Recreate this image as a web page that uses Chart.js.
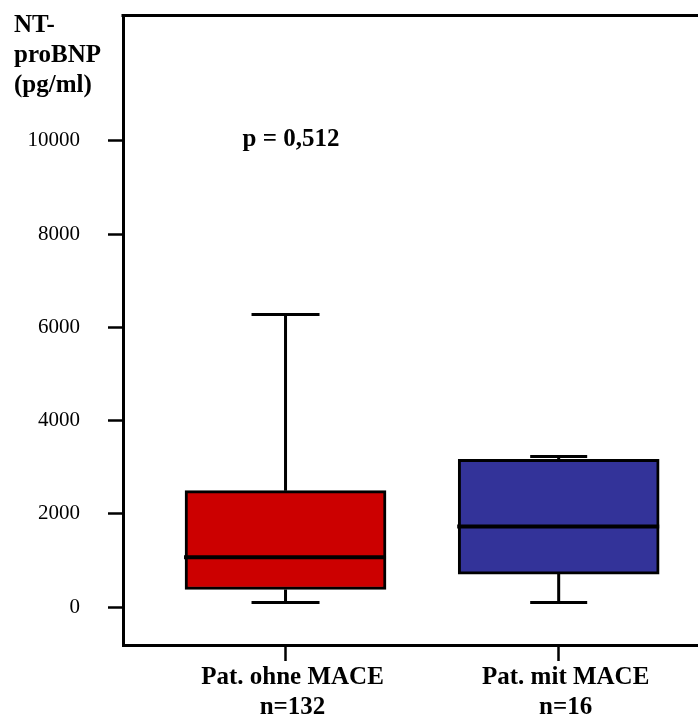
<!DOCTYPE html>
<html>
<head>
<meta charset="utf-8">
<script src="https://cdn.jsdelivr.net/npm/chart.js@4.4.1/dist/chart.umd.min.js"></script>
<style>
  html, body { margin: 0; padding: 0; background: #fff; }
  #wrap { width: 698px; height: 718px; position: relative; }
</style>
</head>
<body>
<div id="wrap"><canvas id="canvas"></canvas></div>
<script>
const canvas = document.getElementById("canvas");

// Boxplot values, NT-proBNP in pg/ml
const CATEGORIES = ["Pat. ohne MACE", "Pat. mit MACE"];
const N_LABELS = ["n=132", "n=16"];
const MIN = [100, 100];
const Q1 = [380, 710];
const MEDIAN = [1070, 1730];
const Q3 = [2500, 3170];
const MAX = [6280, 3230];
const Y_TICKS = [0, 2000, 4000, 6000, 8000, 10000];
const P_TEXT = "p = 0,512";

const FONT = "'Liberation Serif', 'Times New Roman', serif";
const COLORS = ["#CC0000", "#333399"];
const CAP_WIDTHS = [68, 57];

// whiskers, caps and median lines on top of the floating bars
const boxDetails = {
	id: "boxDetails",
	afterDatasetsDraw(chart) {
		const { ctx, scales: { y } } = chart;
		const meta = chart.getDatasetMeta(0);
		ctx.save();
		ctx.strokeStyle = "#000";
		ctx.lineCap = "butt";
		meta.data.forEach((bar, i) => {
			const cx = bar.x;
			const half = bar.width / 2;
			const cap = CAP_WIDTHS[i] / 2;
			const yMax = y.getPixelForValue(MAX[i]);
			const yMin = y.getPixelForValue(MIN[i]);

			ctx.lineWidth = 3;
			ctx.beginPath();
			ctx.moveTo(cx, y.getPixelForValue(Q3[i]));
			ctx.lineTo(cx, yMax);
			ctx.moveTo(cx, y.getPixelForValue(Q1[i]));
			ctx.lineTo(cx, yMin);
			ctx.moveTo(cx - cap, yMax);
			ctx.lineTo(cx + cap, yMax);
			ctx.moveTo(cx - cap, yMin);
			ctx.lineTo(cx + cap, yMin);
			ctx.stroke();

			const yMed = y.getPixelForValue(MEDIAN[i]);
			ctx.lineWidth = 4;
			ctx.beginPath();
			ctx.moveTo(cx - half - 1, yMed);
			ctx.lineTo(cx + half, yMed);
			ctx.stroke();
		});
		ctx.restore();
	},
};

// frame top line, axis title and p value
const extras = {
	id: "extras",
	afterDraw(chart) {
		const { ctx, chartArea, scales: { x, y } } = chart;
		ctx.save();
		ctx.strokeStyle = "#000";
		ctx.lineWidth = 3;
		ctx.beginPath();
		ctx.moveTo(chartArea.left - 1.5, chartArea.top + 0.5);
		ctx.lineTo(chartArea.right, chartArea.top + 0.5);
		ctx.stroke();

		ctx.fillStyle = "#000";
		ctx.font = "bold 25px " + FONT;
		ctx.textAlign = "left";
		ctx.textBaseline = "alphabetic";
		["NT-", "proBNP", "(pg/ml)"].forEach((line, i) => {
			ctx.fillText(line, 14, 32 + i * 30);
		});

		ctx.textAlign = "center";
		ctx.fillText(P_TEXT, x.getPixelForValue(1.02), y.getPixelForValue(9900));
		ctx.restore();
	},
};

const noPadding = (axis) => {
	axis.paddingTop = 0;
	axis.paddingBottom = 0;
	axis.paddingLeft = 0;
	axis.paddingRight = 0;
};

const grafico = new Chart(canvas, {
	type: "bar",
	data: {
		datasets: [
			{
				data: CATEGORIES.map((c, i) => ({ x: i + 1, y: [Q1[i], Q3[i]] })),
				backgroundColor: COLORS,
				borderColor: "#000",
				borderWidth: 3,
				borderSkipped: false,
				barThickness: 201,
			},
		],
	},
	options: {
		responsive: true,
		maintainAspectRatio: false,
		animation: false,
		layout: { padding: { top: 15, right: 0, left: 0, bottom: 0 } },
		plugins: {
			legend: { display: false },
			tooltip: { enabled: false },
		},
		scales: {
			x: {
				type: "linear",
				offset: false,
				min: 0.405,
				max: 2.51,
				afterBuildTicks: (axis) => {
					axis.ticks = CATEGORIES.map((c, i) => ({ value: i + 1 }));
				},
				afterFit: (axis) => {
					axis.height = 73;
					noPadding(axis);
				},
				grid: {
					offset: false,
					drawOnChartArea: false,
					tickLength: 16,
					tickWidth: 2.5,
					tickColor: "#000",
				},
				border: { display: true, color: "#000", width: 3 },
				ticks: {
					autoSkip: false,
					maxRotation: 0,
					padding: 1,
					labelOffset: 7,
					color: "#000",
					font: { family: FONT, size: 25, weight: "bold", lineHeight: 1.22 },
					callback: (value) => [CATEGORIES[value - 1], N_LABELS[value - 1]],
				},
			},
			y: {
				min: -810,
				max: 12700,
				afterBuildTicks: (axis) => {
					axis.ticks = Y_TICKS.map((v) => ({ value: v }));
				},
				afterFit: (axis) => {
					axis.width = 123;
					noPadding(axis);
				},
				grid: {
					drawOnChartArea: false,
					tickLength: 15,
					tickWidth: 2.5,
					tickColor: "#000",
				},
				border: { display: true, color: "#000", width: 3 },
				ticks: {
					padding: 28,
					color: "#000",
					font: { family: FONT, size: 21 },
					callback: (value) => String(value),
				},
			},
		},
	},
	plugins: [boxDetails, extras],
});
</script>
</body>
</html>
